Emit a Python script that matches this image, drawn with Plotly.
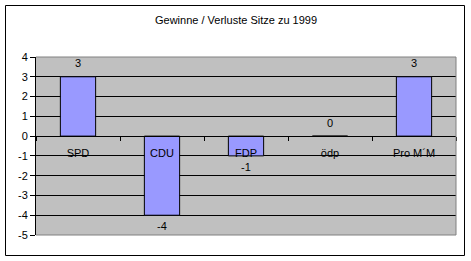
import plotly.graph_objects as go

categories = ["SPD", "CDU", "FDP", "ödp", "Pro M´M"]
values = [3, -4, -1, 0, 3]
title_text = "Gewinne / Verluste Sitze zu 1999"
y_ticks = [4, 3, 2, 1, 0, -1, -2, -3, -4, -5]

FONT = "Arial, Liberation Sans, sans-serif"

fig = go.Figure()
fig.add_trace(go.Bar(
    x=categories, y=values,
    marker=dict(color="#9999FF", line=dict(color="black", width=1)),
    hoverinfo="skip",
))

ann = []
for c, v in zip(categories, values):
    ann.append(dict(x=c, y=v, text=str(v), showarrow=False,
                    xref="x", yref="y", yanchor="middle",
                    yshift=13.5 if v >= 0 else -11,
                    font=dict(family=FONT, size=11, color="black")))

W, H = 471, 261
L, R, T, B = 36, 15, 57, 26
pw, ph = W - L - R, H - T - B


def px_x(p):
    return (p - L) / pw


def px_y(p):
    return (H - B - p) / ph


ann.append(dict(x=px_x(235.5), y=px_y(20), xref="paper", yref="paper",
                text=title_text, showarrow=False,
                xanchor="center", yanchor="middle",
                font=dict(family=FONT, size=11, color="black")))

zero_pos = (0 - (-5)) / 9.0

fig.update_layout(
    width=W, height=H,
    margin=dict(l=L, r=R, t=T, b=B, pad=0),
    paper_bgcolor="white",
    plot_bgcolor="#C0C0C0",
    showlegend=False,
    bargap=0.58,
    font=dict(family=FONT, size=11, color="black"),
    annotations=ann,
    xaxis=dict(
        type="category", range=[-0.5, 4.5],
        anchor="free", position=zero_pos,
        showgrid=False, showline=True, linecolor="black", linewidth=1,
        ticks="outside", tickson="boundaries", ticklen=4, tickcolor="black",
        tickfont=dict(family=FONT, size=11, color="black"),
        ticklabelstandoff=7,
        fixedrange=True,
    ),
    yaxis=dict(
        range=[-5, 4], tickvals=y_ticks, ticktext=[str(t) for t in y_ticks],
        showgrid=True, gridcolor="black", gridwidth=1,
        zeroline=True, zerolinecolor="black", zerolinewidth=1,
        showline=True, linecolor="black", linewidth=1,
        ticks="outside", ticklen=5, tickcolor="black",
        tickfont=dict(family=FONT, size=11, color="black"),
        fixedrange=True,
    ),
    shapes=[
        dict(type="path", xref="paper", yref="paper",
             path="M 0,1 L 1,1 L 1,0 L 0,0",
             line=dict(color="#808080", width=1), layer="above"),
        dict(type="rect", xref="paper", yref="paper",
             x0=px_x(5.5), x1=px_x(464.5), y0=px_y(255.5), y1=px_y(5.5),
             line=dict(color="black", width=1), layer="above"),
    ],
)

fig.write_html("out.html", config=dict(displayModeBar=False))
